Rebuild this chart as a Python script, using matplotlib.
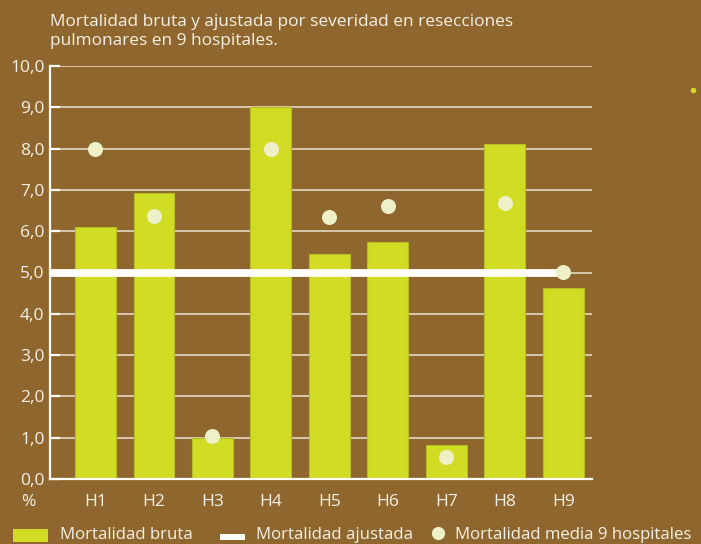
import matplotlib
matplotlib.use("Agg")
import matplotlib.pyplot as plt
import matplotlib.patches as mpatches
from matplotlib.lines import Line2D

hospitals = ["H1", "H2", "H3", "H4", "H5", "H6", "H7", "H8", "H9"]
bruta = [6.1, 6.92, 1.0, 9.0, 5.44, 5.73, 0.82, 8.11, 4.63]
media = [8.0, 6.37, 1.04, 8.0, 6.35, 6.61, 0.54, 6.69, 5.02]
ajustada = 5.0
yticks = [0, 1, 2, 3, 4, 5, 6, 7, 8, 9, 10]
ytick_labels = ["0,0", "1,0", "2,0", "3,0", "4,0", "5,0", "6,0", "7,0", "8,0", "9,0", "10,0"]
title = "Mortalidad bruta y ajustada por severidad en resecciones\npulmonares en 9 hospitales."
legend_labels = ["Mortalidad bruta", "Mortalidad ajustada", "Mortalidad media 9 hospitales"]

BG = "#8F672E"
BAR = "#D1DC24"
BAR_EDGE = "#B7BE22"
DOT = "#EEF1C8"
WHITE = "#FFFFFF"
TXT = "#F4F0E6"

plt.rcParams['font.family'] = ['Open Sans', 'DejaVu Sans']

W, H = 701, 544
fig = plt.figure(figsize=(W / 100, H / 100), dpi=100, facecolor=BG)
ax = fig.add_axes([50 / W, 1 - 479 / H, (592 - 50) / W, (479 - 66) / H], facecolor=BG)

x = list(range(len(hospitals)))
ax.set_xlim(-0.778, 8.49)
ax.set_ylim(0, 10)

# gridlines
for yv in yticks[1:]:
    ax.axhline(yv, color="#F2EEE4", lw=1.1, alpha=0.9, zorder=1)

ax.bar(x, bruta, width=0.70, color=BAR, edgecolor=BAR_EDGE, linewidth=0.8, zorder=2)
ax.plot([ax.get_xlim()[0], x[-1]], [ajustada, ajustada], color=WHITE, lw=5.6,
        solid_capstyle="butt", zorder=3)
ax.plot(x, media, linestyle="none", marker="o", markersize=10.8, color=DOT,
        markeredgewidth=0, zorder=4)

for s in ["top", "right"]:
    ax.spines[s].set_visible(False)
for s in ["left", "bottom"]:
    ax.spines[s].set_color(WHITE)
    ax.spines[s].set_linewidth(1.6)

ax.set_yticks(yticks)
ax.set_yticklabels(ytick_labels)
ax.set_xticks(x)
ax.set_xticklabels(hospitals)
ax.tick_params(axis="y", direction="in", length=7, width=1.6, color=WHITE,
               labelcolor=TXT, labelsize=12.5, pad=4)
ax.tick_params(axis="x", length=0, labelcolor=TXT, labelsize=12.5, pad=11)

fig.text(28 / W, 1 - 502 / H, "%", color=TXT, fontsize=12.5, ha="center", va="center")

fig.text(50 / W, 1 - 14 / H, title, color=TXT, fontsize=12.4, ha="left", va="top",
         linespacing=1.25)

# legend (manual)
fig.add_artist(mpatches.Rectangle((13 / W, 1 - 542 / H), 35 / W, 13 / H,
                                  transform=fig.transFigure, color=BAR, lw=0))
fig.text(60 / W, 1 - 535 / H, legend_labels[0], color=TXT, fontsize=12.1,
         ha="left", va="center")
fig.add_artist(mpatches.Rectangle((220 / W, 1 - 540 / H), 25 / W, 6 / H,
                                  transform=fig.transFigure, color=WHITE, lw=0))
fig.text(256 / W, 1 - 535 / H, legend_labels[1], color=TXT, fontsize=12.1,
         ha="left", va="center")
fig.add_artist(Line2D([438 / W], [1 - 533 / H], marker="o", markersize=9.5, color=DOT,
                      markeredgewidth=0, linestyle="none", transform=fig.transFigure))
fig.text(455 / W, 1 - 535 / H, legend_labels[2], color=TXT, fontsize=12.1,
         ha="left", va="center")

# small stray dot at top right
fig.add_artist(Line2D([693 / W], [1 - 90 / H], marker="o", markersize=4, color=BAR,
                      markeredgewidth=0, linestyle="none", transform=fig.transFigure))

fig.savefig("out.png", dpi=100, facecolor=BG)
